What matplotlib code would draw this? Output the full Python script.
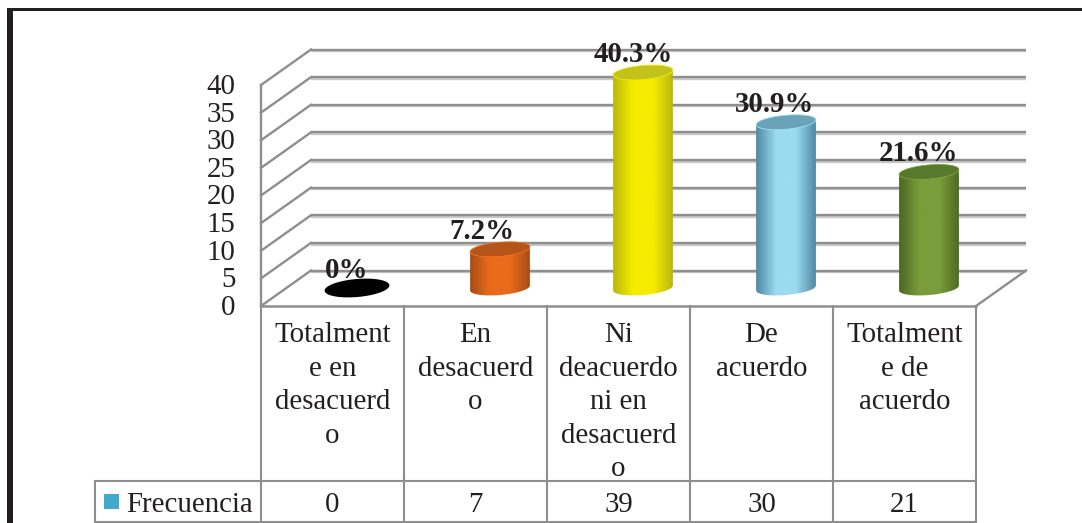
import numpy as np
import matplotlib
matplotlib.use("Agg")
import matplotlib.pyplot as plt
import matplotlib.patheffects as pe
from matplotlib.colors import LinearSegmentedColormap
from matplotlib.patches import Polygon, Rectangle
from matplotlib.lines import Line2D

categories = ["Totalment\ne en\ndesacuerd\no", "En\ndesacuerd\no",
              "Ni\ndeacuerdo\nni en\ndesacuerd\no", "De\nacuerdo",
              "Totalment\ne de\nacuerdo"]
frecuencia = [0, 7, 39, 30, 21]
porcentajes = ["0%", "7.2%", "40.3%", "30.9%", "21.6%"]
yticks = [0, 5, 10, 15, 20, 25, 30, 35, 40]
serie = "Frecuencia"

# styles: (edge, centre, top cap)
bar_colors = [("#000000", "#000000", "#000000"),
              ("#a84c14", "#ea6c1a", "#b5551c"),
              ("#b9b80e", "#f6ec00", "#c3c21c"),
              ("#4f88a2", "#9adcf0", "#6aa3b8"),
              ("#4b6921", "#7a9c3a", "#56792b")]
label_shift = [-10, -18, -10, -11, -11]
GRID = "#8e8e8e"
TEXT = "#231f20"
FS = 20.8

W, H = 1082, 523
plt.rcParams["font.family"] = ["Liberation Serif", "DejaVu Serif"]
fig = plt.figure(figsize=(W / 100, H / 100), dpi=100, facecolor="white")

# pixel overlay for frame and table
px = fig.add_axes([0, 0, 1, 1], zorder=0)
px.set_xlim(0, W); px.set_ylim(H, 0); px.axis("off")

L, R, Y0, Y40 = 261, 976, 306, 85
ax = fig.add_axes([L / W, 1 - Y0 / H, (R - L) / W, (Y0 - Y40) / H], zorder=1)
ax.patch.set_alpha(0)
for s in ax.spines.values():
    s.set_visible(False)
n = len(categories)
xpos = np.arange(n)
ax.set_xticks(xpos, categories)
ax.set_yticks(yticks, [str(t) for t in yticks])
ax.tick_params(axis="y", length=0, pad=18.5, labelsize=FS, labelcolor=TEXT)
ax.tick_params(axis="x", length=0, pad=11.8, labelsize=FS, labelcolor=TEXT)
for t in ax.get_xticklabels():
    t.set_linespacing(1.37)
    t.set_verticalalignment("top")
for t in ax.get_yticklabels():
    t.set_verticalalignment("center")
    t.set_y(t.get_position()[1])
ax.yaxis.set_tick_params(labelleft=True)
import matplotlib.transforms as mtrans
for t in ax.get_yticklabels():
    t.set_transform(t.get_transform() + mtrans.Affine2D().translate(0, -2))

sx = (R - L) / n          # pixels per category
sy = (Y0 - Y40) / 40.0    # pixels per unit
x0, x1 = -0.5, n - 0.5
dx, dy = 50 / sx, 35.5 / sy  # depth of the 3D wall

shadow = [pe.SimpleLineShadow(offset=(0, -1.2), shadow_color="#c9c9c9", alpha=1), pe.Normal()]
for v in yticks:
    ax.plot([x0 + dx, x1 + dx], [v + dy, v + dy], color=GRID, lw=1.7,
            clip_on=False, zorder=1, path_effects=shadow, solid_capstyle="butt")
    ax.plot([x0, x0 + dx], [v, v + dy], color=GRID, lw=1.7, clip_on=False, zorder=1)
ax.plot([x0, x0], [0, 40], color=GRID, lw=1.7, clip_on=False, zorder=1)
ax.plot([x0, x1], [0, 0], color=GRID, lw=1.8, clip_on=False, zorder=1)
ax.plot([x1, x1 + dx], [0, dy], color=GRID, lw=1.7, clip_on=False, zorder=1)

# cylinders, sizes given in pixels and converted through the axis scale
A, B, TILT = 30.0, 7.0, np.deg2rad(5)
cx_off, cy_off = 24.5 / sx, 18 / sy


def ellipse(cx, cy, a, b, t):
    ex = a * np.cos(t) * np.cos(TILT) - b * np.sin(t) * np.sin(TILT)
    ey = a * np.cos(t) * np.sin(TILT) + b * np.sin(t) * np.cos(TILT)
    return np.column_stack([cx + ex / sx, cy + ey / sy])


for i, v, (edge, mid, cap), lab, sh in zip(xpos, frecuencia, bar_colors, porcentajes, label_shift):
    cx, base, top = i + cx_off, cy_off, v + cy_off
    if v == 0:
        ax.add_patch(Polygon(ellipse(cx, base, 32.5, 9, np.linspace(0, 2 * np.pi, 90)),
                             closed=True, fc=cap, ec="none", zorder=3, clip_on=False))
    else:
        t_low = np.linspace(np.pi, 2 * np.pi, 50)
        body = np.vstack([ellipse(cx, base, A, B, t_low),
                          ellipse(cx, top, A, B, t_low[::-1])])
        clip = Polygon(body, closed=True, fc="none", ec="none", zorder=3, clip_on=False)
        ax.add_patch(clip)
        cmap = LinearSegmentedColormap.from_list("c", [edge, mid, mid, edge], N=128)
        im = ax.imshow(np.linspace(0, 1, 128)[None, :], cmap=cmap, aspect="auto",
                       extent=[cx - A / sx, cx + A / sx, base - 12 / sy, top + 12 / sy],
                       zorder=3, interpolation="bilinear")
        im.set_clip_box(fig.bbox)
        im.set_clip_path(clip)
        ax.add_patch(Polygon(ellipse(cx, top, A, B, np.linspace(0, 2 * np.pi, 90)),
                             closed=True, fc=cap, ec=mid, lw=0.6, zorder=4, clip_on=False))
    ax.annotate(lab, (cx, top), xytext=(sh, 18), textcoords="offset pixels",
                ha="center", va="center", fontsize=FS, fontweight="bold",
                color=TEXT, zorder=6, annotation_clip=False)

ax.set_xlim(x0, x1)
ax.set_ylim(0, 40)

# data table under the plot
T_TOP, T_MID, T_BOT, T_LEFT = Y0, 481, 522, 95
for k in range(n + 1):
    xk = L + k * sx
    px.add_line(Line2D([xk, xk], [T_TOP, T_BOT], color=GRID, lw=1.5))
px.add_line(Line2D([T_LEFT, R], [T_MID, T_MID], color=GRID, lw=1.5))
px.add_line(Line2D([T_LEFT, R], [T_BOT, T_BOT], color=GRID, lw=1.5))
px.add_line(Line2D([T_LEFT, T_LEFT], [T_MID, T_BOT], color=GRID, lw=1.5))
px.add_patch(Rectangle((104, 494), 15, 15, fc="#41a9c9", ec="none"))
px.text(126, 505, serie, ha="left", va="center", fontsize=FS, color=TEXT)
for i, v in enumerate(frecuencia):
    px.text(L + (i + 0.5) * sx, 505, str(v), ha="center", va="center", fontsize=FS, color=TEXT)

# outer frame
px.add_patch(Rectangle((7, 8), W - 7, 3, fc=TEXT, ec="none"))
px.add_patch(Rectangle((7, 8), 5.5, H - 8, fc=TEXT, ec="none"))

fig.savefig("out.png", dpi=100)
